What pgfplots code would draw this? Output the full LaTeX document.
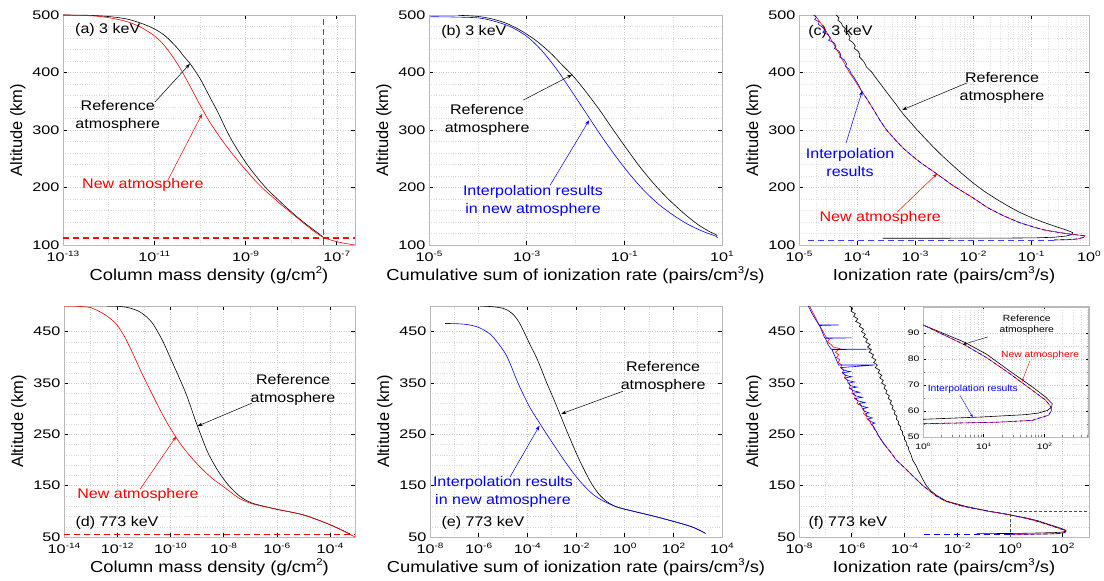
\documentclass[border=0pt]{standalone}
\usepackage{fontspec}
\setmainfont{Liberation Sans}[FakeStretch=1.15]
\newfontfamily\ylabfont{Liberation Sans}
\newfontfamily\tickfont{Liberation Sans}[FakeStretch=1.3]
\usepackage{graphicx}
\usepackage{pgfplots}
\pgfplotsset{compat=1.18}
\usetikzlibrary{arrows.meta}
\newcommand{\annfont}{\fontsize{14}{18}\selectfont}
\newcommand{\sps}[1]{\raisebox{0.42em}{\scalebox{0.62}{#1}}}
\newcommand{\e}[1]{10\sps{#1}}
\tikzset{arr/.style={-{Stealth[length=5bp,width=3.5bp]}, line width=0.5bp},
 sarr/.style={-{Stealth[length=3.5bp,width=2.5bp]}, line width=0.4bp}}
\pgfplotsset{
 panel/.style={
   scale only axis,
   axis line style={gray!55, line width=0.6bp},
   major tick style={black, line width=0.5bp}, major tick length=4bp,
   minor tick length=0pt,
   grid=both,
   major grid style={dotted, gray!40, line width=0.4bp},
   minor grid style={dotted, gray!30, line width=0.4bp},
   tick label style={font=\fontsize{12.5}{12.5}\tickfont},
   xticklabel style={yshift=-2.5bp},
   xlabel style={font=\fontsize{16}{16}\selectfont, yshift=2bp},
   ylabel style={font=\fontsize{16.5}{16.5}\ylabfont},
   /pgf/number format/assume math mode=true,
   ylabel={Altitude (km)},
   tick align=inside,
 },
 toprow/.style={panel, height=230bp, ymin=100, ymax=500, ytick={100,200,300,400,500}, minor y tick num=4},
 botrow/.style={panel, height=231bp, ymin=50, ymax=500, ytick={50,150,250,350,450}, minor y tick num=4},
 cv/.style={line width=0.6bp},
 bd/.style={line width=0.7bp, blue, dash pattern=on 4bp off 2.5bp},
}
\begin{document}
\begin{tikzpicture}
\useasboundingbox (0,0) rectangle (1104bp,581bp);
% ---------------- (a)
\begin{axis}[toprow, at={(63bp,336bp)}, anchor=south west, width=292bp,
  xmin=-13, xmax=-6.6, xtick={-13,-11,-9,-7}, xticklabels={\e{-13},\e{-11},\e{-9},\e{-7}},
  minor xtick={-12,-10,-8}, xlabel={Column mass density (g/cm\sps{2})}]
\addplot[red, line width=1bp, dash pattern=on 6bp off 4bp] coordinates {(-13,110.8) (-6.6,110.8)};
\addplot[gray!70!black, line width=1bp, dash pattern=on 6bp off 4bp] coordinates {(-7.3,100) (-7.3,500)};
\addplot[gray!70!black, line width=1bp, dash pattern=on 6bp off 4bp] coordinates {(-13,112.7) (-6.6,112.7)};
\addplot[cv, black, smooth] coordinates {(-13.0,500) (-12.5,499.6) (-12.2,498.5) (-11.9,496.5) (-11.6,493) (-11.3,486) (-11.0,476) (-10.75,463) (-10.5,443) (-10.35,428) (-10.22,416) (-10.0,390) (-9.8,360) (-9.6,330) (-9.45,305) (-9.3,282) (-9.1,256) (-8.9,233) (-8.7,213) (-8.5,195) (-8.3,180) (-8.1,165) (-7.9,151) (-7.7,138) (-7.5,126) (-7.3,114)};
\addplot[cv, red, smooth] coordinates {(-13.0,500) (-12.5,499) (-12.2,497.5) (-11.9,494) (-11.6,488.5) (-11.3,479) (-11.0,464) (-10.8,449) (-10.6,428) (-10.4,403) (-10.2,374) (-10.0,344) (-9.8,316) (-9.6,292) (-9.4,270) (-9.2,250) (-9.0,231) (-8.8,213) (-8.6,197) (-8.4,183) (-8.2,169) (-8.0,156) (-7.8,143) (-7.6,130) (-7.45,121) (-7.29,113) (-7.1,108) (-6.9,104) (-6.6,100)};
\node[anchor=west, font=\annfont] at (axis cs:-12.81,474) {(a) 3 keV};
\node[align=center, font=\annfont] at (axis cs:-11.8,324) {Reference\\atmosphere};
\draw[arr, black] (axis cs:-10.98,349) -- (axis cs:-10.22,415);
\node[red, font=\annfont] at (axis cs:-11.25,204) {New atmosphere};
\draw[arr, red] (axis cs:-10.70,213) -- (axis cs:-9.95,328);
\end{axis}
% ---------------- (b)
\begin{axis}[toprow, at={(429bp,336bp)}, anchor=south west, width=293bp,
  xmin=-5, xmax=1, xtick={-5,-3,-1,1}, xticklabels={\e{-5},\e{-3},\e{-1},\e{1}},
  minor xtick={-4,-2,0}, xlabel={Cumulative sum of ionization rate (pairs/cm\sps{3}/s)}]
\addplot[cv, black, smooth] coordinates {(-4.4,499.5) (-4.0,497.5) (-3.7,493) (-3.4,485) (-3.1,472) (-2.8,455) (-2.5,433) (-2.25,411) (-2.04,393) (-1.8,368) (-1.5,334) (-1.29,308) (-1.0,273) (-0.7,238) (-0.4,207) (-0.1,180) (0.22,155) (0.5,136) (0.75,123) (0.88,118) (0.9,116)};
\addplot[cv, blue, smooth] coordinates {(-4.97,497) (-4.5,496.5) (-4.0,495) (-3.7,490) (-3.34,480) (-3.0,463) (-2.7,439) (-2.38,405) (-2.1,370) (-1.85,338) (-1.71,320) (-1.5,293) (-1.2,257) (-0.9,224) (-0.6,195) (-0.3,171) (0.0,152) (0.3,136) (0.6,124) (0.88,115) (0.9,112)};
\node[anchor=west, font=\annfont] at (axis cs:-4.82,470) {(b) 3 keV};
\node[align=center, font=\annfont] at (axis cs:-3.81,317) {Reference\\atmosphere};
\draw[arr, black] (axis cs:-3.07,352) -- (axis cs:-2.07,396);
\node[blue, align=center, font=\annfont] at (axis cs:-2.87,176) {Interpolation results\\in new atmosphere};
\draw[arr, blue] (axis cs:-2.52,204) -- (axis cs:-1.72,317);
\end{axis}
% ---------------- (c)
\begin{axis}[toprow, at={(799bp,336bp)}, anchor=south west, width=290bp,
  xmin=-5, xmax=0, xtick={-5,-4,-3,-2,-1,0}, xticklabels={\e{-5},\e{-4},\e{-3},\e{-2},\e{-1},\e{0}},
  minor xtick={-4.699,-4.523,-4.398,-4.301,-4.222,-4.155,-4.097,-4.046,
  -3.699,-3.523,-3.398,-3.301,-3.222,-3.155,-3.097,-3.046,
  -2.699,-2.523,-2.398,-2.301,-2.222,-2.155,-2.097,-2.046,
  -1.699,-1.523,-1.398,-1.301,-1.222,-1.155,-1.097,-1.046,
  -0.699,-0.523,-0.398,-0.301,-0.222,-0.155,-0.097,-0.046},
  minor grid style={dotted, gray!22, line width=0.4bp},
  xlabel={Ionization rate (pairs/cm\sps{3}/s)}]
\node[anchor=west, font=\annfont] at (axis cs:-4.9,470) {(c) 3 keV};
\addplot[cv, black] coordinates {(-4.36,500) (-4.31,495) (-4.33,491) (-4.27,486) (-4.25,481) (-4.20,476) (-4.22,472) (-4.15,467) (-4.12,461) (-4.14,457) (-4.07,452) (-4.03,446) (-4.05,442) (-3.98,437) (-3.95,431) (-3.96,427) (-3.90,421) (-3.86,415) (-3.84,410) (-3.78,404) (-3.74,400) (-3.70,394) (-3.64,386) (-3.58,378) (-3.52,370) (-3.46,362) (-3.40,354) (-3.33,345) (-3.26,335) (-3.18,325) (-3.10,316) (-2.98,302) (-2.85,288) (-2.70,272) (-2.55,257) (-2.40,243) (-2.20,225) (-2.00,208) (-1.80,193) (-1.60,180) (-1.40,168) (-1.20,157) (-1.00,148) (-0.80,140) (-0.60,133) (-0.45,128) (-0.35,124.5) (-0.28,121.5) (-0.30,118) (-0.40,115.5) (-0.60,113.5) (-0.90,112.5) (-1.40,112) (-2.50,111.8) (-3.56,111.8)};
\addplot[cv, red] coordinates {(-4.73,500) (-4.64,488) (-4.55,475) (-4.45,458) (-4.35,440) (-4.24,420) (-4.13,400) (-4.03,385) (-3.93,369) (-3.81,351) (-3.70,333) (-3.60,316) (-3.49,300) (-3.35,284) (-3.20,268) (-3.05,255) (-2.90,243) (-2.63,224) (-2.34,203) (-2.00,182) (-1.75,165) (-1.48,151) (-1.20,139) (-0.95,131) (-0.74,125.5) (-0.50,121.5) (-0.30,118.5) (-0.15,117) (-0.07,116) (-0.10,113) (-0.20,110.5) (-0.35,109.3) (-0.6,108.8)};
\addplot[cv, blue] coordinates {(-4.75,500) (-4.70,496) (-4.73,492) (-4.65,488) (-4.67,484) (-4.60,479) (-4.56,474) (-4.59,470) (-4.50,466) (-4.46,460) (-4.49,456) (-4.40,452) (-4.36,446) (-4.39,442) (-4.31,437) (-4.28,431) (-4.30,427) (-4.22,422) (-4.18,415) (-4.20,411) (-4.13,405) (-4.10,398) (-4.06,393) (-4.02,386) (-3.97,378) (-3.93,369)};
\addplot[bd] coordinates {(-3.93,369) (-3.81,351) (-3.70,333) (-3.60,316) (-3.49,300) (-3.35,284) (-3.20,268) (-3.05,255) (-2.90,243) (-2.63,224) (-2.34,203) (-2.00,182) (-1.75,165) (-1.48,151) (-1.20,139) (-0.95,131) (-0.74,125.5) (-0.50,121.5) (-0.30,118.5) (-0.15,117) (-0.07,116) (-0.10,113) (-0.20,110.5) (-0.35,109.3) (-0.6,108.8)};
\addplot[blue!75, line width=0.9bp, dash pattern=on 6bp off 4bp] coordinates {(-0.6,108.6) (-4.87,108.6)};
\node[align=center, font=\annfont] at (axis cs:-1.50,373) {Reference\\atmosphere};
\draw[arr, black] (axis cs:-2.10,382) -- (axis cs:-3.22,335);
\node[blue, align=center, font=\annfont] at (axis cs:-4.12,244) {Interpolation\\results};
\draw[arr, blue] (axis cs:-4.19,277) -- (axis cs:-3.91,368);
\node[red, font=\annfont] at (axis cs:-3.60,147) {New atmosphere};
\draw[arr, red] (axis cs:-3.31,157) -- (axis cs:-2.62,224);
\end{axis}
% ---------------- (d)
\begin{axis}[botrow, at={(64bp,44bp)}, anchor=south west, width=291bp,
  xmin=-14, xmax=-3.06, xtick={-14,-12,-10,-8,-6,-4}, xticklabels={\e{-14},\e{-12},\e{-10},\e{-8},\e{-6},\e{-4}},
  minor xtick={-13,-11,-9,-7,-5}, xlabel={Column mass density (g/cm\sps{2})}]
\addplot[black, line width=1bp, dash pattern=on 6bp off 4bp] coordinates {(-14,54.3) (-3.06,54.3)};
\addplot[red, line width=1bp, dash pattern=on 6bp off 4bp] coordinates {(-14,55.6) (-3.06,55.6)};
\addplot[cv, black, smooth] coordinates {(-12.4,500) (-12.0,499.5) (-11.6,497) (-11.2,490) (-10.9,479) (-10.64,464) (-10.3,433) (-10.02,401) (-9.7,364) (-9.45,334) (-9.25,306) (-9.08,280) (-8.82,244) (-8.57,212) (-8.2,178) (-7.88,155) (-7.6,139) (-7.38,129) (-7.1,120) (-6.8,114) (-6.0,104) (-5.0,93) (-4.0,74) (-3.25,56)};
\addplot[cv, red, smooth] coordinates {(-14,500) (-13.5,499.5) (-13.0,497) (-12.77,492) (-12.4,481) (-12.02,464) (-11.7,438) (-11.39,405) (-11.1,372) (-10.77,337) (-10.45,304) (-10.14,274) (-9.76,242) (-9.5,223) (-9.2,204) (-8.8,182) (-8.4,163) (-8.0,148) (-7.7,136) (-7.4,125) (-7.1,118) (-6.8,113) (-6.0,104) (-5.0,93) (-4.0,74) (-3.06,50)};
\node[anchor=west, font=\annfont] at (axis cs:-13.7,77) {(d) 773 keV};
\node[align=center, font=\annfont] at (axis cs:-5.39,336) {Reference\\atmosphere};
\draw[arr, black] (axis cs:-6.93,311) -- (axis cs:-8.98,266);
\node[red, font=\annfont] at (axis cs:-11.22,132) {New atmosphere};
\draw[arr, red] (axis cs:-11.14,143) -- (axis cs:-9.78,246);
\end{axis}
% ---------------- (e)
\begin{axis}[botrow, at={(430bp,44bp)}, anchor=south west, width=292bp,
  xmin=-8, xmax=4, xtick={-8,-6,-4,-2,0,2,4}, xticklabels={\e{-8},\e{-6},\e{-4},\e{-2},\e{0},\e{2},\e{4}},
  minor xtick={-7,-5,-3,-1,1,3}, xlabel={Cumulative sum of ionization rate (pairs/cm\sps{3}/s)}]
\addplot[cv, black, smooth] coordinates {(-5.94,500) (-5.4,498.5) (-5.0,495.5) (-4.75,490) (-4.55,482) (-4.36,470) (-4.16,452) (-3.9,426) (-3.61,398) (-3.4,374) (-3.2,350) (-2.9,317) (-2.65,288) (-2.4,259) (-2.15,231) (-1.9,204) (-1.6,175) (-1.35,153) (-1.05,133) (-0.73,119) (-0.32,108.5) (0.37,100) (1.33,89) (2.56,73) (3.0,65) (3.32,57)};
\addplot[cv, blue, smooth] coordinates {(-7.38,466) (-6.9,465.5) (-6.49,464) (-6.1,460) (-5.81,454) (-5.5,444) (-5.26,431) (-4.91,408) (-4.7,387) (-4.43,355) (-4.15,326) (-3.88,301) (-3.47,270) (-3.2,250) (-2.85,225) (-2.51,201) (-2.1,174) (-1.69,151) (-1.3,133) (-0.87,120) (-0.32,108.5) (0.37,100) (1.33,89) (2.56,73) (3.0,65) (3.32,57)};
\node[anchor=west, font=\annfont] at (axis cs:-7.67,77) {(e) 773 keV};
\node[align=center, font=\annfont] at (axis cs:1.58,362) {Reference\\atmosphere};
\draw[arr, black] (axis cs:-0.07,334) -- (axis cs:-2.6,290);
\node[blue, align=center, font=\annfont] at (axis cs:-5.0,138) {Interpolation results\\in new atmosphere};
\draw[arr, blue] (axis cs:-4.71,167) -- (axis cs:-3.5,267);
\end{axis}
% ---------------- (f)
\begin{axis}[botrow, at={(799bp,44bp)}, anchor=south west, width=290bp,
  xmin=-8, xmax=3, xtick={-8,-6,-4,-2,0,2}, xticklabels={\e{-8},\e{-6},\e{-4},\e{-2},\e{0},\e{2}},
  minor xtick={-7,-5,-3,-1,1}, xlabel={Ionization rate (pairs/cm\sps{3}/s)}]
\addplot[cv, black] coordinates {(-6.08,500) (-5.97,495) (-6.03,490) (-5.86,485) (-5.93,480) (-5.77,475) (-5.85,470) (-5.66,465) (-5.71,460) (-5.55,455) (-5.63,450) (-5.48,445) (-5.56,440) (-5.40,435) (-5.47,430) (-5.30,425) (-5.40,420) (-5.26,415) (-5.34,410) (-5.17,405) (-5.24,400) (-5.08,395) (-5.17,390) (-5.03,385) (-5.11,380) (-4.94,375) (-5.00,370) (-4.86,365) (-4.94,360) (-4.80,355) (-4.87,350) (-4.72,345) (-4.78,340) (-4.66,335) (-4.71,330) (-4.57,325) (-4.62,320) (-4.49,315) (-4.55,310) (-4.43,305) (-4.47,300) (-4.35,295) (-4.39,290) (-4.28,285) (-4.31,280) (-4.22,275) (-4.24,270) (-4.14,265) (-4.15,260) (-4.07,255) (-4.08,250) (-4.00,245) (-4.00,240) (-3.93,235) (-3.93,230) (-3.85,225) (-3.84,220) (-3.75,210) (-3.69,200) (-3.57,190) (-3.48,180) (-3.38,170) (-3.28,160) (-3.17,150) (-3.0,140) (-2.75,130) (-2.41,120) (-1.7,110) (-1.25,105) (-0.77,100) (-0.3,96) (0,93.1) (0.69,86.4) (1.05,81.8) (1.41,75.7) (1.8,69.3) (2.02,65.4) (2.13,62.8) (2.12,61.5) (2.05,60.2) (1.9,59.2) (1.69,58.6) (0.97,57.7) (0,56.8) (-1.26,56.6)};
\addplot[cv, red] coordinates {(-7.60,500) (-7.40,480) (-7.20,460) (-7.09,450) (-6.98,440) (-6.85,435) (-6.92,430) (-6.78,425) (-6.70,420) (-6.45,417) (-6.55,413) (-6.62,410) (-6.50,405) (-6.58,400) (-6.45,395) (-6.52,390) (-6.38,385) (-6.42,380) (-6.30,375) (-6.36,370) (-6.22,365) (-6.28,360) (-6.16,355) (-6.14,350) (-6.05,345) (-6.10,340) (-5.95,335) (-6.00,330) (-5.86,325) (-5.90,320) (-5.76,315) (-5.80,310) (-5.63,305) (-5.60,300) (-5.52,295) (-5.55,290) (-5.43,285) (-5.42,280) (-5.30,275) (-5.27,270) (-5.18,265) (-5.15,260) (-5.05,255) (-5.02,250) (-4.88,240) (-4.75,230) (-4.60,220) (-4.45,210) (-4.31,200) (-4.10,190) (-3.90,180) (-3.70,170) (-3.50,160) (-3.30,150) (-3.05,140) (-2.80,130) (-2.45,120) (-1.80,110) (-1.30,105) (-0.80,100) (-0.3,96) (0,93.1) (0.69,85.4) (1.05,80.5) (1.41,74.7) (1.8,68) (2.02,64.2) (2.1,61.9) (2.12,60.3) (2.07,58.4) (1.8,56.4) (1.24,55.7) (0,55.1)};
\addplot[cv, blue] coordinates {(-7.65,500) (-7.45,480) (-7.24,463) (-6.50,463) (-7.22,462) (-7.12,450) (-7.03,438) (-6.00,438) (-7.00,437) (-6.90,425) (-6.78,416) (-5.24,416) (-6.75,415) (-6.62,400) (-6.50,385) (-5.13,385) (-6.42,380) (-6.30,375) (-6.05,372) (-6.35,370) (-6.25,365) (-6.00,362) (-6.25,360) (-6.15,355) (-5.90,352) (-6.12,350) (-6.05,345) (-5.80,342) (-6.05,340) (-5.95,335) (-5.70,332) (-5.96,330) (-5.85,325) (-5.60,322) (-5.86,320) (-5.75,315) (-5.50,312) (-5.72,310) (-5.62,305) (-5.40,302) (-5.58,300) (-5.52,295) (-5.35,292) (-5.48,290) (-5.40,285) (-5.22,282) (-5.38,280) (-5.28,275) (-5.12,272) (-5.25,270) (-5.17,265) (-5.12,260) (-5.06,255) (-5.02,250) (-4.90,240) (-4.76,230)};
\addplot[bd] coordinates {(-4.76,230) (-4.60,220) (-4.45,210) (-4.31,200) (-4.10,190) (-3.90,180) (-3.70,170) (-3.50,160) (-3.30,150) (-3.05,140) (-2.80,130) (-2.45,120) (-1.80,110) (-1.30,105) (-0.80,100) (-0.3,96) (0,93.1) (0.69,85.4) (1.05,80.5) (1.41,74.7) (1.8,68) (2.02,64.2) (2.1,61.9) (2.12,60.3) (2.07,58.4) (1.8,56.4) (1.24,55.7) (0,55.1)};
\addplot[blue, line width=0.9bp, dash pattern=on 6bp off 4bp] coordinates {(0,55.1) (-3.35,55.1)};
\draw[gray!60!black, line width=0.5bp, dash pattern=on 3bp off 2bp] (axis cs:0,50) rectangle (axis cs:3,100);
\node[anchor=west, font=\annfont] at (axis cs:-7.77,77) {(f) 773 keV};
\end{axis}
% ---------------- inset
\begin{axis}[panel, at={(923bp,144bp)}, anchor=south west, width=165bp, height=130bp,
  axis background/.style={fill=white},
  tick label style={font=\fontsize{8}{8}\tickfont}, xticklabel style={yshift=0bp}, ylabel={},
  xmin=0, xmax=2.72, ymin=50, ymax=100, xtick={0,1,2}, xticklabels={\e{0},\e{1},\e{2}},
  ytick={50,60,70,80,90}, minor y tick num=1, major tick length=2.5bp, minor tick length=1.5bp,
  minor xtick={0.301,0.477,0.602,0.699,0.778,0.845,0.903,0.954,1.301,1.477,1.602,1.699,1.778,1.845,1.903,1.954,2.301,2.477,2.602,2.699}]
\addplot[cv, black] coordinates {(-0.77,100) (-0.3,96) (0,93.1) (0.69,86.4) (1.05,81.8) (1.41,75.7) (1.8,69.3) (2.02,65.4) (2.13,62.8) (2.12,61.5) (2.05,60.2) (1.9,59.2) (1.69,58.6) (0.97,57.7) (0,56.8) (-1.26,56.6)};
\addplot[cv, red] coordinates {(-0.80,100) (-0.3,96) (0,93.1) (0.69,85.4) (1.05,80.5) (1.41,74.7) (1.8,68) (2.02,64.2) (2.1,61.9) (2.12,60.3) (2.07,58.4) (1.8,56.4) (1.24,55.7) (0,55.1)};
\addplot[cv, blue, dash pattern=on 3bp off 3bp] coordinates {(-0.80,100) (-0.3,96) (0,93.1) (0.69,85.4) (1.05,80.5) (1.41,74.7) (1.8,68) (2.02,64.2) (2.1,61.9) (2.12,60.3) (2.07,58.4) (1.8,56.4) (1.24,55.7) (0,55.1)};
\node[align=center, font=\fontsize{9}{11}\selectfont] at (axis cs:1.71,93.1) {Reference\\atmosphere};
\draw[sarr, black] (axis cs:1.07,88.5) -- (axis cs:0.66,85.6);
\node[red, font=\fontsize{9}{11}\selectfont] at (axis cs:1.93,81.5) {New atmosphere};
\draw[sarr, red] (axis cs:1.76,79.2) -- (axis cs:1.63,71.2);
\node[blue, font=\fontsize{9}{11}\selectfont] at (axis cs:0.82,68.5) {Interpolation results};
\draw[sarr, blue] (axis cs:0.61,66) -- (axis cs:0.82,57.6);
\end{axis}
\end{tikzpicture}
\end{document}
